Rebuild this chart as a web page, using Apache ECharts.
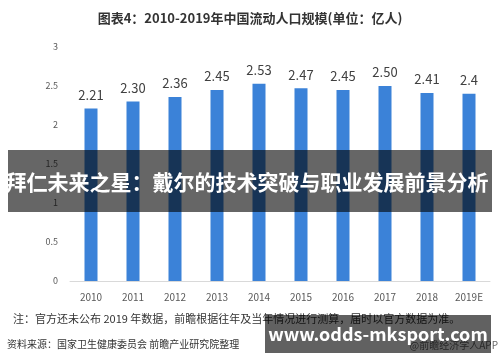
<!DOCTYPE html>
<html><head><meta charset="utf-8">
<script src="https://cdn.jsdelivr.net/npm/echarts@6/dist/echarts.min.js"></script>
<style>html,body{margin:0;padding:0;background:#fff;}#c{width:500px;height:362px;}</style>
</head><body><div id="c"></div>
<script>
var categories = ['2010','2011','2012','2013','2014','2015','2016','2017','2018','2019E'];
var values = [2.21, 2.30, 2.36, 2.45, 2.53, 2.47, 2.45, 2.50, 2.41, 2.4];
var valueLabels = ['2.21','2.30','2.36','2.45','2.53','2.47','2.45','2.50','2.41','2.4'];
var titleText = '图表4：2010-2019年中国流动人口规模(单位：亿人)';
var bannerText = '拜仁未来之星：戴尔的技术突破与职业发展前景分析';
var noteText = '注：官方还未公布 2019 年数据，前瞻根据往年及当年情况进行测算，届时以官方数据为准。';
var sourceText = '资料来源：国家卫生健康委员会 前瞻产业研究院整理';
var appText = '@前瞻经济学人APP';
var siteText = 'www.odds-mksport.com';

var FONT = '"Noto Sans CJK SC", "Noto Sans", sans-serif';
var chart = echarts.init(document.getElementById('c'), null, {renderer: 'canvas'});
chart.setOption({
  backgroundColor: '#ffffff',
  animation: false,
  title: {
    text: titleText, left: 'center', top: 7,
    textStyle: {fontFamily: FONT, fontSize: 13, fontWeight: 'bold', color: '#333333'}
  },
  grid: {left: 70, right: 10, top: 47, bottom: 81},
  xAxis: {
    type: 'category', data: categories,
    axisLine: {lineStyle: {color: '#d9d9d9'}},
    axisTick: {show: false},
    axisLabel: {color: '#595959', fontSize: 10, margin: 11, fontFamily: FONT}
  },
  yAxis: {
    type: 'value', min: 0, max: 3, interval: 0.5,
    splitLine: {show: false},
    axisLine: {show: false}, axisTick: {show: false},
    axisLabel: {color: '#595959', fontSize: 9, margin: 12, fontFamily: FONT}
  },
  series: [{
    type: 'bar', data: values, barWidth: 13,
    itemStyle: {color: '#3b82d8'},
    label: {
      show: true, position: 'top', distance: 7,
      color: '#404040', fontSize: 13, fontFamily: FONT,
      formatter: function (p) { return valueLabels[p.dataIndex]; }
    }
  }],
  graphic: [
    {type: 'rect', z: 100, shape: {x: 8, y: 150, width: 484, height: 62}, style: {fill: 'rgba(0,0,0,0.6)'}},
    {type: 'text', z: 101, x: 247, y: 182, style: {text: bannerText, fill: '#ffffff', font: 'bold 21px ' + FONT, textAlign: 'center', textVerticalAlign: 'middle'}},
    {type: 'text', z: 50, x: 13, y: 319, style: {text: noteText, fill: '#333333', font: '11px ' + FONT, textVerticalAlign: 'middle'}},
    {type: 'text', z: 50, x: 7, y: 344, style: {text: sourceText, fill: '#333333', font: '10px ' + FONT, textVerticalAlign: 'middle'}},
    {type: 'text', z: 50, x: 498, y: 345, style: {text: appText, fill: '#666666', font: '10px ' + FONT, textAlign: 'right', textVerticalAlign: 'middle'}},
    {type: 'rect', z: 100, shape: {x: 265, y: 315, width: 226, height: 38}, style: {fill: 'rgba(0,0,0,0.62)'}},
    {type: 'text', z: 101, x: 378, y: 334, style: {text: siteText, fill: '#ffffff', font: 'bold 18px ' + FONT, textAlign: 'center', textVerticalAlign: 'middle'}}
  ]
});
</script>
</body></html>
